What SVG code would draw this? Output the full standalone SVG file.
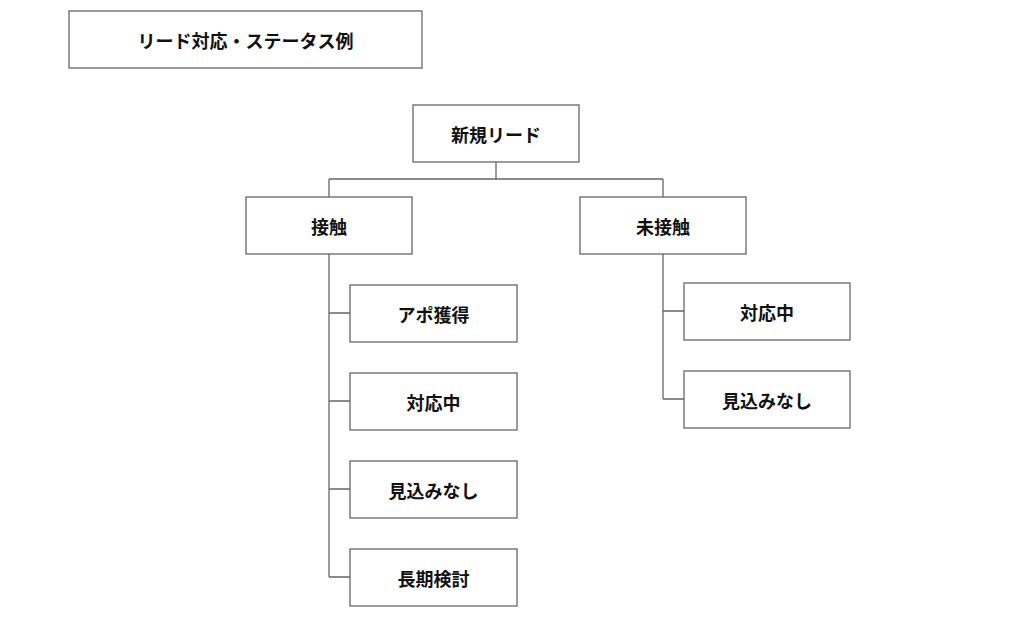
<svg xmlns="http://www.w3.org/2000/svg" width="1024" height="628" viewBox="0 0 1024 628">
<style>
.b{fill:#fff;stroke:#666;stroke-width:1.3}
.t{font-family:"Noto Sans CJK JP","Noto Sans",sans-serif;font-size:18px;font-weight:bold;fill:#111;text-anchor:middle;dominant-baseline:central}
.c{fill:none;stroke:#666;stroke-width:1.3}
</style>
<rect width="1024" height="628" fill="#fff"/>
<g id="connectors">
<path class="c" d="M496 162V179M329 179H663M329 179V197M663 179V197"/>
<path class="c" d="M329 254V577M329 313H350M329 401H350M329 489H350M329 577H350"/>
<path class="c" d="M663 254V399M663 311H684M663 399H684"/>
</g>
<g id="title"><rect class="b" x="69" y="11" width="353" height="57"/><text class="t" x="245.5" y="39.5">リード対応・ステータス例</text></g>
<g id="n-new"><rect class="b" x="413" y="105" width="166" height="57"/><text class="t" x="496" y="133.5">新規リード</text></g>
<g id="n-contact"><rect class="b" x="246" y="197" width="166" height="57"/><text class="t" x="329" y="225.5">接触</text></g>
<g id="n-nocontact"><rect class="b" x="580" y="197" width="166" height="57"/><text class="t" x="663" y="225.5">未接触</text></g>
<g id="n-apo"><rect class="b" x="350" y="285" width="167" height="57"/><text class="t" x="433.5" y="313.5">アポ獲得</text></g>
<g id="n-taiou1"><rect class="b" x="350" y="373" width="167" height="57"/><text class="t" x="433.5" y="401.5">対応中</text></g>
<g id="n-mikomi1"><rect class="b" x="350" y="461" width="167" height="57"/><text class="t" x="433.5" y="489.5">見込みなし</text></g>
<g id="n-chouki"><rect class="b" x="350" y="549" width="167" height="57"/><text class="t" x="433.5" y="577.5">長期検討</text></g>
<g id="n-taiou2"><rect class="b" x="684" y="283" width="166" height="57"/><text class="t" x="767" y="311.5">対応中</text></g>
<g id="n-mikomi2"><rect class="b" x="684" y="371" width="166" height="57"/><text class="t" x="767" y="399.5">見込みなし</text></g>
</svg>
